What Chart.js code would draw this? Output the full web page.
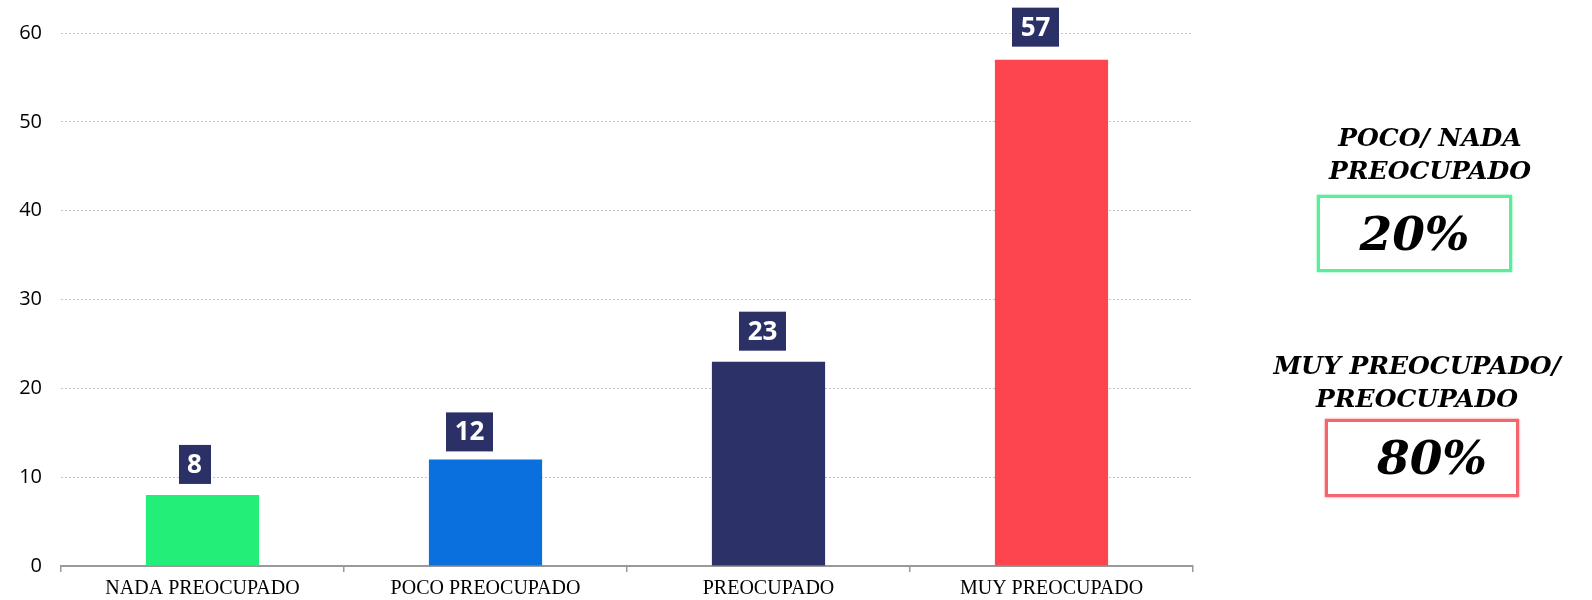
<!DOCTYPE html>
<html>
<head>
<meta charset="utf-8">
<script src="https://cdn.jsdelivr.net/npm/chart.js@4/dist/chart.umd.min.js"></script>
<style>
  body { margin: 0; background: #fff; }
  #wrap { position: relative; width: 1592px; height: 600px; }
  .side { position: absolute; font-family: "DejaVu Serif", serif; font-weight: bold; font-style: italic; color: #000; text-align: center; }
  .title { font-size: 25px; line-height: 33px; }
  .box { position: absolute; box-sizing: border-box; font-size: 47px; line-height: 72px; }
</style>
</head>
<body>
<div id="wrap">
  <canvas id="chart" width="1592" height="600"></canvas>
  <div class="side title" style="left:1280px; top:121px; width:300px;">POCO/ NADA<br>PREOCUPADO</div>
  <div class="side box" style="left:1317px; top:195px; width:195px; height:77px; border:3px solid #5aee9a; box-shadow:0 0 2px #5aee9a;">20%</div>
  <div class="side title" style="left:1262px; top:349px; width:310px;">MUY PREOCUPADO/<br>PREOCUPADO</div>
  <div class="side box" style="left:1325px; top:419px; width:194px; height:78px; border:3px solid #f4666c; box-shadow:0 0 2px #f4666c; padding-left:20px;">80%</div>
</div>
<script>
// datos
const categorias = ['NADA PREOCUPADO', 'POCO PREOCUPADO', 'PREOCUPADO', 'MUY PREOCUPADO'];
const valores = [8, 12, 23, 57];
const colores = ['#22ee78', '#0a70dd', '#2c3267', '#fc454e'];
const ticksY = [0, 10, 20, 30, 40, 50, 60];

// desplazamiento de cada caja respecto al centro/tope de su barra (px)
const cajaDx = [-8, -16, -6, -16];
const cajaGap = [11, 8, 11, 13];

// etiquetas en caja azul sobre cada barra
const etiquetas = {
  id: 'etiquetas',
  afterDatasetsDraw(chart) {
    const ctx = chart.ctx;
    const meta = chart.getDatasetMeta(0);
    ctx.save();
    ctx.font = 'bold 26px "Open Sans"';
    ctx.textAlign = 'center';
    ctx.textBaseline = 'middle';
    meta.data.forEach((bar, i) => {
      const txt = String(valores[i]);
      const w = Math.round(ctx.measureText(txt).width + 17);
      const h = 39;
      const cx = bar.x + cajaDx[i];
      const bottom = bar.y - cajaGap[i];
      ctx.fillStyle = '#2b3166';
      ctx.fillRect(Math.round(cx - w / 2), bottom - h, w, h);
      ctx.fillStyle = '#fff';
      ctx.fillText(txt, cx, bottom - h / 2 + 1);
    });
    ctx.restore();
  }
};

const ctx = document.getElementById('chart').getContext('2d');
new Chart(ctx, {
  type: 'bar',
  data: {
    labels: categorias,
    datasets: [{
      data: valores,
      backgroundColor: colores,
      borderWidth: 0,
      barPercentage: 0.4,
      categoryPercentage: 1.0
    }]
  },
  options: {
    responsive: false,
    animation: false,
    layout: {
      padding: { top: 33, right: 399, bottom: 0, left: 0 }
    },
    scales: {
      x: {
        afterFit: (scale) => { scale.height = 34; },
        grid: {
          drawOnChartArea: false,
          color: '#999',
          lineWidth: 1.5,
          tickLength: 6
        },
        border: { color: '#999', width: 2 },
        ticks: {
          color: '#000',
          padding: 5,
          font: { family: '"Liberation Serif", serif', size: 20 }
        }
      },
      y: {
        min: 0,
        max: 60,
        afterFit: (scale) => { scale.width = 61; },
        afterBuildTicks: (scale) => { scale.ticks = ticksY.map(v => ({ value: v })); },
        grid: {
          color: '#c4c4c4',
          lineWidth: 1,
          drawTicks: false
        },
        border: { display: false, dash: [2, 2] },
        ticks: {
          color: '#000',
          padding: 19,
          font: { family: '"Open Sans", sans-serif', size: 20 }
        }
      }
    },
    plugins: {
      legend: { display: false },
      tooltip: { enabled: false }
    }
  },
  plugins: [etiquetas]
});
</script>
</body>
</html>
